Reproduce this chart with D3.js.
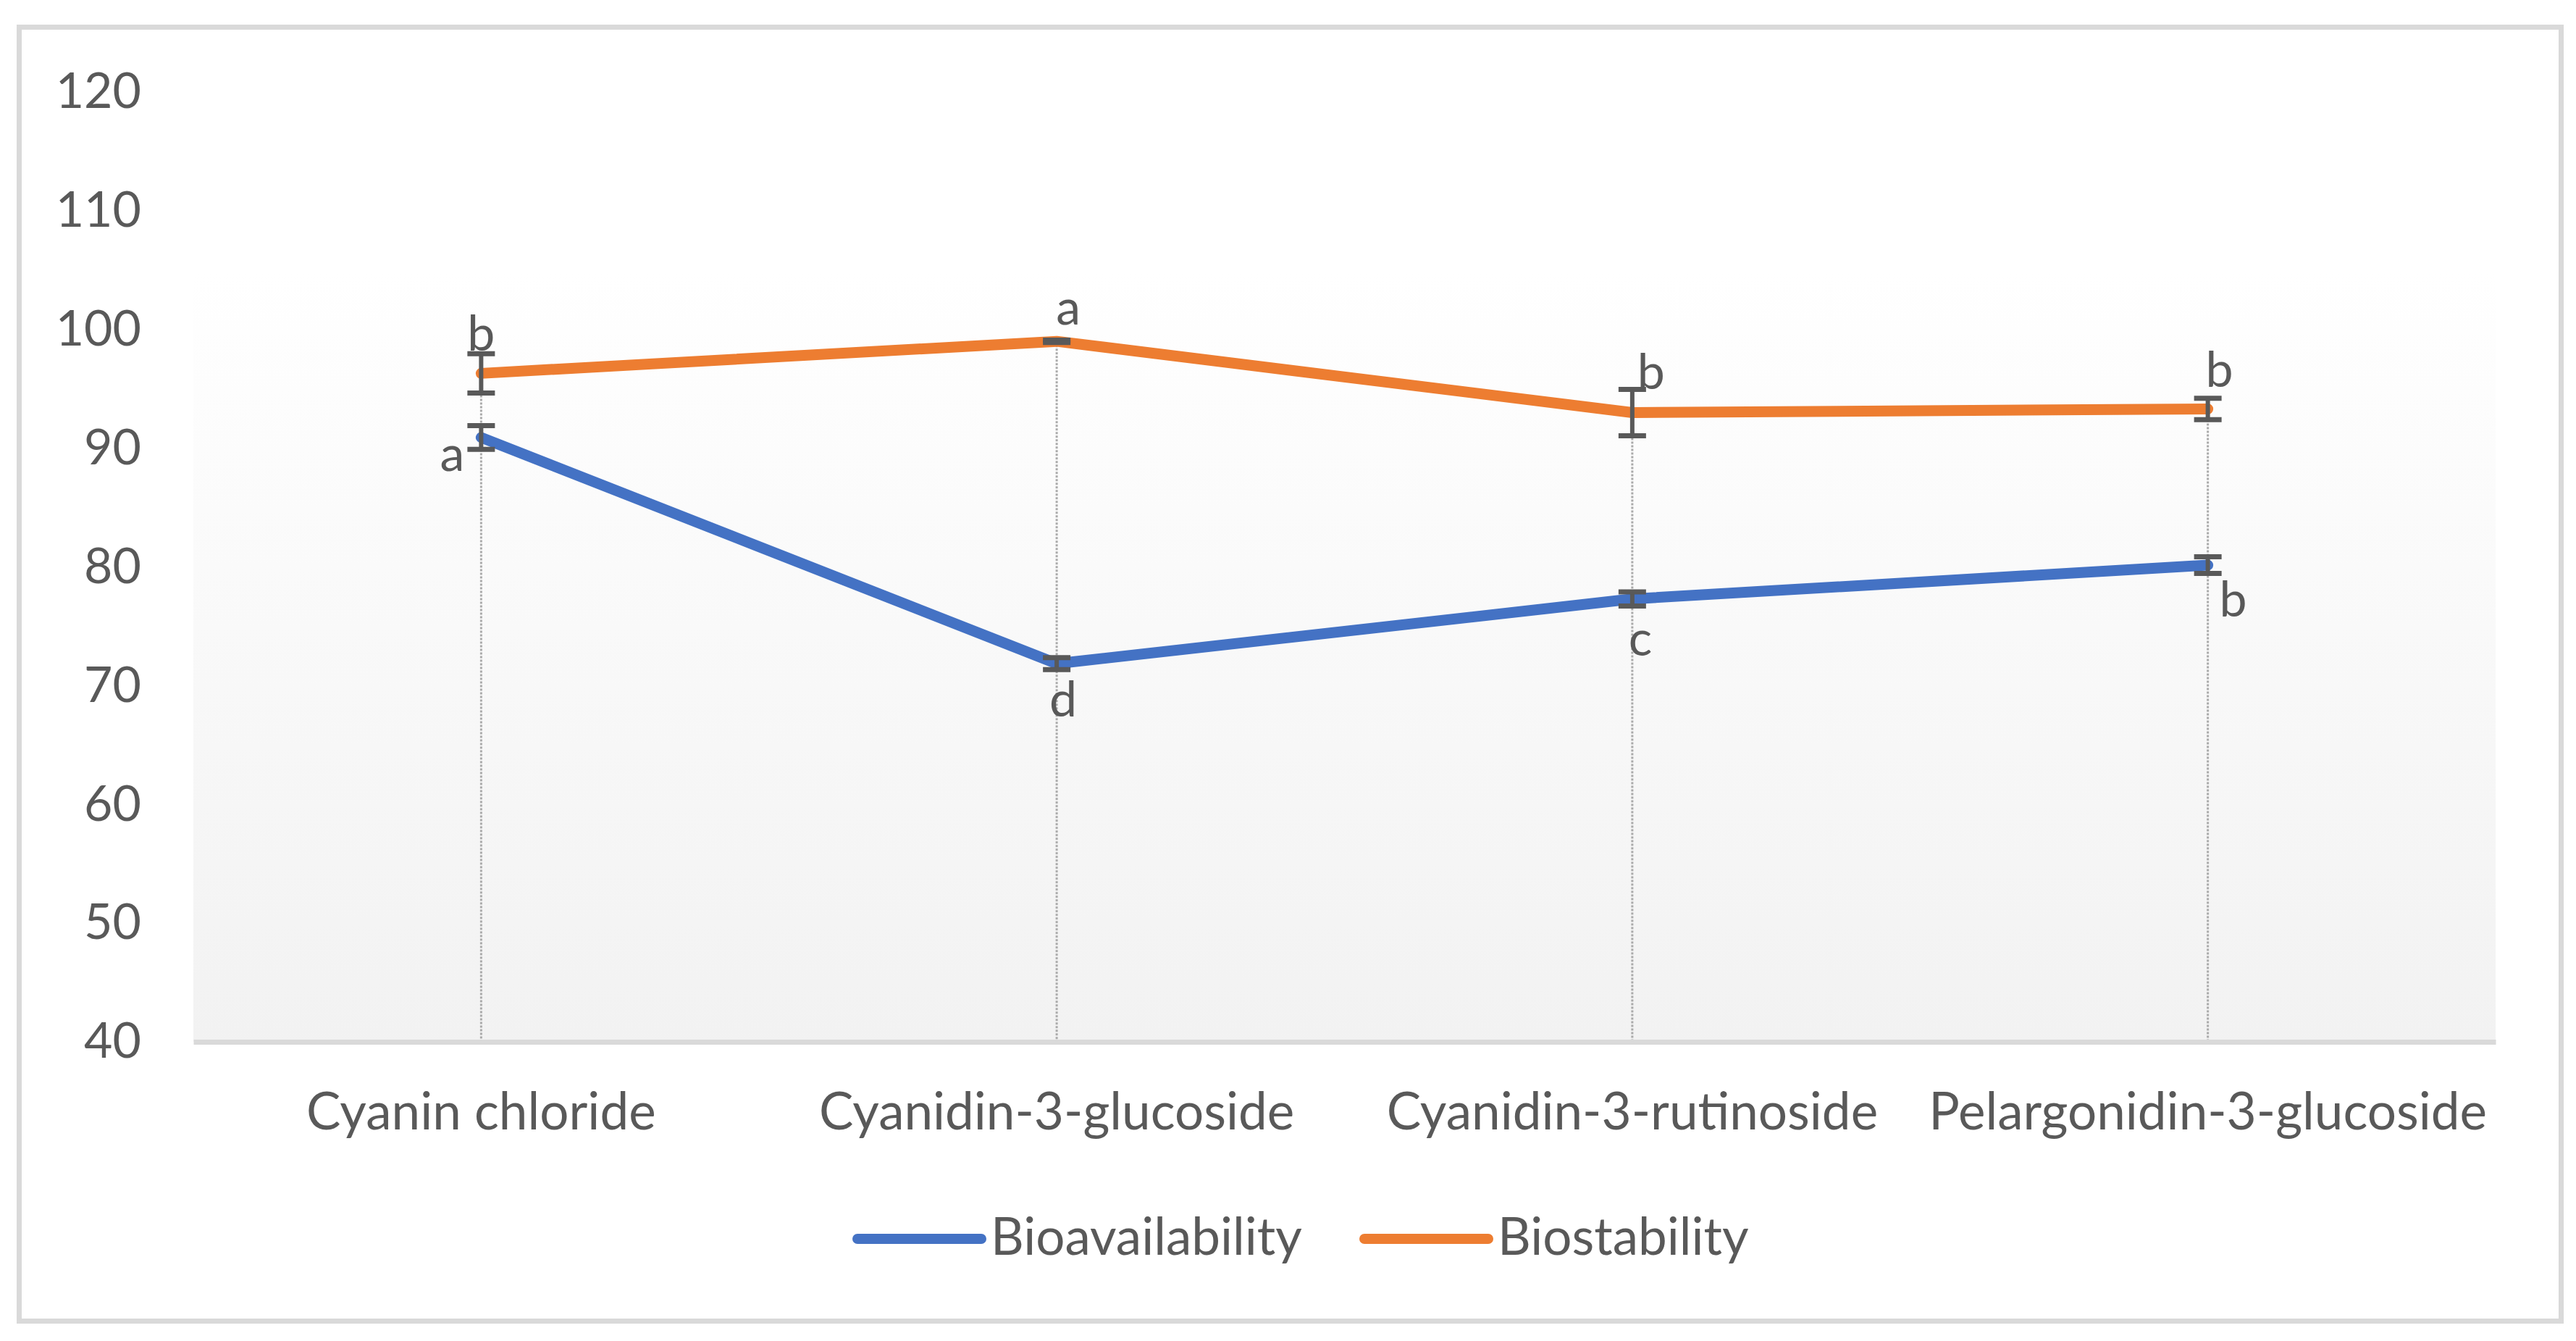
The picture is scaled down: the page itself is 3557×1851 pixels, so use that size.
<!DOCTYPE html>
<html>
<head>
<meta charset="utf-8">
<script src="https://cdn.jsdelivr.net/npm/d3@7"></script>
<style>
  body { margin: 0; background: #fff; }
  text { font-family: Lato, "Noto Sans", sans-serif; fill: #595959; }
</style>
</head>
<body>
<div id="chart"></div>
<script>
// data
const categories = ["Cyanin chloride", "Cyanidin-3-glucoside", "Cyanidin-3-rutinoside", "Pelargonidin-3-glucoside"];
const bioavailability = [90.9, 71.85, 77.3, 80.15];
const bioavailabilityErr = [1.0, 0.5, 0.6, 0.7];
const bioavailabilityLetters = ["a", "d", "c", "b"];
const biostability = [96.3, 99.0, 93.0, 93.3];
const biostabilityErr = [1.65, 0.1, 1.95, 0.9];
const biostabilityLetters = ["b", "a", "b", "b"];
const yTicks = [40, 50, 60, 70, 80, 90, 100, 110, 120];

// label nudges (pixels), as placed by hand in the original
const blueLabelShift = [[-40, 46], [9, 73], [11, 78], [35, 71]];
const orangeLabelShift = [[0, -31], [16, -23], [26, -32], [16, -31]];

const W = 3557, H = 1851;
const plotLeft = 267, plotRight = 3446, plotTop = 127, plotBottom = 1438;
const fontSize = 68;
const catFontSize = 71;

const svg = d3.select("#chart").append("svg")
  .attr("width", W).attr("height", H);

svg.append("rect").attr("width", W).attr("height", H).attr("fill", "#fff");

// outer chart border
svg.append("rect")
  .attr("x", 26.5).attr("y", 37.5)
  .attr("width", 3510).attr("height", 1786)
  .attr("fill", "none").attr("stroke", "#d9d9d9").attr("stroke-width", 7);

const x = d3.scaleBand().domain(categories).range([plotLeft, plotRight]).padding(0);
const cx = (c) => x(c) + x.bandwidth() / 2;
const y = d3.scaleLinear().domain([40, 120]).range([plotBottom, plotTop]);

// plot area gradient
const defs = svg.append("defs");
const grad = defs.append("linearGradient").attr("id", "plotGrad")
  .attr("x1", 0).attr("y1", 0).attr("x2", 0).attr("y2", 1);
grad.append("stop").attr("offset", "19%").attr("stop-color", "#ffffff");
grad.append("stop").attr("offset", "100%").attr("stop-color", "#f2f2f2");

svg.append("rect")
  .attr("x", plotLeft).attr("y", plotTop)
  .attr("width", plotRight - plotLeft).attr("height", plotBottom - plotTop)
  .attr("fill", "url(#plotGrad)");

// y axis labels
const yAxis = svg.append("g")
  .attr("transform", `translate(${plotLeft},0)`)
  .call(d3.axisLeft(y).tickValues(yTicks).tickSize(0).tickPadding(72));
yAxis.select(".domain").remove();
yAxis.selectAll("text")
  .attr("font-size", fontSize)
  .style("font-family", "Lato, 'Noto Sans', sans-serif")
  .attr("fill", "#595959");

// drop lines from top point down to axis
svg.append("g").selectAll("line")
  .data(categories)
  .join("line")
  .attr("x1", (d) => cx(d)).attr("x2", (d) => cx(d))
  .attr("y1", (d, i) => y(Math.max(bioavailability[i], biostability[i])))
  .attr("y2", plotBottom)
  .attr("stroke", "#aaaaaa").attr("stroke-width", 3)
  .attr("stroke-dasharray", "3,2");

// x axis
const xAxis = svg.append("g")
  .attr("transform", `translate(0,${plotBottom})`)
  .call(d3.axisBottom(x).tickSize(0));
xAxis.select(".domain")
  .attr("stroke", "#d9d9d9").attr("stroke-width", 7);
xAxis.selectAll("text")
  .attr("font-size", catFontSize)
  .style("font-family", "Lato, 'Noto Sans', sans-serif")
  .attr("fill", "#595959")
  .attr("dy", null)
  .attr("y", 121);

// series
const series = [
  { name: "Bioavailability", values: bioavailability, err: bioavailabilityErr, letters: bioavailabilityLetters, shift: blueLabelShift, color: "#4472c4" },
  { name: "Biostability", values: biostability, err: biostabilityErr, letters: biostabilityLetters, shift: orangeLabelShift, color: "#ed7d31" }
];

const line = d3.line()
  .x((d, i) => cx(categories[i]))
  .y((d) => y(d));

series.forEach((s) => {
  svg.append("path")
    .datum(s.values)
    .attr("d", line)
    .attr("fill", "none")
    .attr("stroke", s.color)
    .attr("stroke-width", 15)
    .attr("stroke-linecap", "round")
    .attr("stroke-linejoin", "round");
});

// error bars on top of lines
series.forEach((s) => {
  const g = svg.append("g").attr("stroke", "#595959");
  s.values.forEach((v, i) => {
    const px = cx(categories[i]);
    const hi = y(v + s.err[i]), lo = y(v - s.err[i]);
    g.append("line").attr("x1", px).attr("x2", px).attr("y1", hi).attr("y2", lo).attr("stroke-width", 6);
    g.append("line").attr("x1", px - 19).attr("x2", px + 19).attr("y1", hi).attr("y2", hi).attr("stroke-width", 7);
    g.append("line").attr("x1", px - 19).attr("x2", px + 19).attr("y1", lo).attr("y2", lo).attr("stroke-width", 7);
  });
});

// significance letters
series.forEach((s) => {
  svg.append("g").selectAll("text")
    .data(s.letters)
    .join("text")
    .attr("x", (d, i) => cx(categories[i]) + s.shift[i][0])
    .attr("y", (d, i) => y(s.values[i]) + s.shift[i][1])
    .attr("text-anchor", "middle")
    .attr("font-size", fontSize)
    .text((d) => d);
});

// legend
const legendItems = [
  { name: "Bioavailability", color: "#4472c4", x: 1184 },
  { name: "Biostability", color: "#ed7d31", x: 1884 }
];
const legend = svg.append("g");
legendItems.forEach((d) => {
  legend.append("line")
    .attr("x1", d.x).attr("x2", d.x + 171)
    .attr("y1", 1710).attr("y2", 1710)
    .attr("stroke", d.color).attr("stroke-width", 14)
    .attr("stroke-linecap", "round");
  legend.append("text")
    .attr("x", d.x + 184).attr("y", 1732)
    .attr("font-size", catFontSize)
    .text(d.name);
});
</script>
</body>
</html>
